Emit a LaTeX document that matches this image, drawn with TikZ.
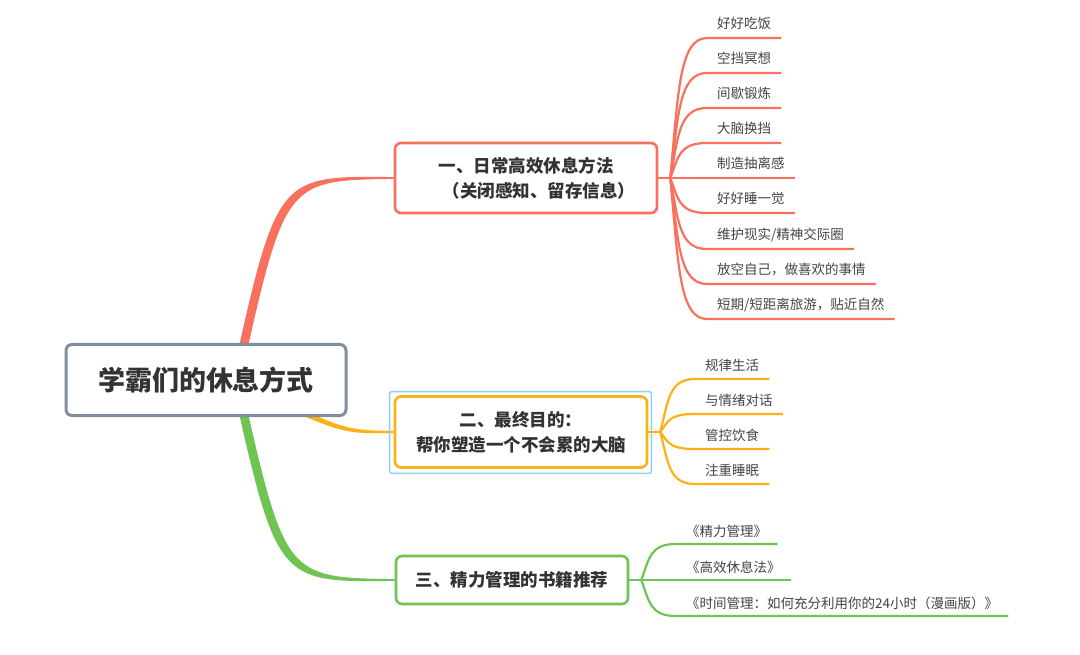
\documentclass[tikz,border=0pt]{standalone}
\usepackage{fontspec}
\setmainfont{Noto Sans CJK SC}
\usetikzlibrary{calc,backgrounds}
\definecolor{cred}{RGB}{248,112,94}
\definecolor{corange}{RGB}{252,178,20}
\definecolor{cgreen}{RGB}{112,196,84}
\definecolor{croot}{RGB}{128,140,160}
\definecolor{chl}{RGB}{140,208,242}
\definecolor{ctext}{RGB}{51,51,51}
\definecolor{cleaf}{RGB}{68,68,68}
\begin{document}
\begin{tikzpicture}[x=1pt,y=-1pt,
  rootbox/.style={draw=croot, line width=3pt, rounded corners=6pt, fill=white,
    minimum width=280pt, minimum height=71pt, inner sep=0pt, text=ctext,
    font=\fontsize{27}{32}\selectfont\bfseries},
  branchbox/.style={line width=2.6pt, rounded corners=6pt, fill=white, inner sep=0pt,
    text=ctext, align=center, font=\fontsize{17.5}{25}\selectfont\bfseries},
  leaf/.style={anchor=west, inner sep=0pt, text=cleaf, font=\fontsize{13.5}{16}\selectfont},
  twig/.style={line width=2.2pt}]
\useasboundingbox (0,0) rectangle (1080,655);

% nodes
\node[rootbox] (root) at (206,380) {学霸们的休息方式};
\node[branchbox, draw=cred, minimum width=262pt, minimum height=70pt] (b1) at (526,178)
  {一、日常高效休息方法\\\hspace*{26pt}（关闭感知、留存信息）};
\node[branchbox, draw=corange, minimum width=252pt, minimum height=71pt] (b2) at (521,432)
  {二、最终目的：\\帮你塑造一个不会累的大脑};
\node[branchbox, draw=cgreen, minimum width=232pt, minimum height=48pt] (b3) at (512,580)
  {三、精力管理的书籍推荐};
\draw[chl, line width=1.5pt, rounded corners=2pt]
  ($(b2.south west)+(-4,4.5)$) rectangle ($(b2.north east)+(3,-3.5)$);

% main tapered branches
\coordinate (r0) at ($(root.center)+(30,0)$);
\begin{scope}[on background layer]
  \fill[white] (0,0) rectangle (1080,655);
  \fill[cred] ($(r0)+(-4.5,0)$) .. controls ($(r0 |- b1.west)+(41,-2.5)$) .. ($(b1.west)+(0,-0.9)$)
     -- ($(b1.west)+(0,0.9)$) .. controls ($(r0 |- b1.west)+(49,2.5)$) .. ($(r0)+(4.5,0)$) -- cycle;
  \fill[cgreen] ($(r0)+(-4.5,0)$) .. controls ($(r0 |- b3.west)+(41,2.5)$) .. ($(b3.west)+(0,0.9)$)
     -- ($(b3.west)+(0,-0.9)$) .. controls ($(r0 |- b3.west)+(49,-2.5)$) .. ($(r0)+(4.5,0)$) -- cycle;
  \fill[corange] ($(r0)+(0,-5)$) .. controls ($(r0 |- b2.west)+(105,-2)$) .. ($(b2.west)+(0,-1)$)
     -- ($(b2.west)+(0,1)$) .. controls ($(r0 |- b2.west)+(105,2)$) .. ($(r0)+(0,5)$) -- cycle;
\end{scope}

% junctions
\coordinate (J1) at ($(b1.east)+(12,0)$);
\coordinate (J2) at ($(b2.east)+(12,0)$);
\coordinate (J3) at ($(b3.east)+(12,0)$);
\draw[cred, twig] (b1.east) -- (J1);
\draw[corange, twig] (b2.east) -- (J2);
\draw[cgreen, twig] (b3.east) -- (J3);

% branch 1 leaves
\foreach \i/\y/\txt in {1/38/好好吃饭, 2/73/空挡冥想, 3/108/间歇锻炼, 4/143/大脑换挡,
  5/178/制造抽离感, 6/213/好好睡一觉, 7/249/{维护现实/精神交际圈},
  8/284/放空自己，做喜欢的事情, 9/319/{短期/短距离旅游，贴近自然}}{
  \node[leaf] (a\i) at (717,{\y-14.5}) {\txt};
  \coordinate (ua\i) at (707,\y);
  \draw[cred, twig] (J1) .. controls ($(J1)!0.6!(J1 |- ua\i)+(8,0)$) and ($(ua\i)+(-28,0)$) .. (ua\i)
    -- ($(ua\i -| a\i.east)+(10,0)$);
}

% branch 2 leaves
\foreach \i/\y/\txt in {1/379/规律生活, 2/414/与情绪对话, 3/449/管控饮食, 4/484/注重睡眠}{
  \node[leaf] (c\i) at (705,{\y-14}) {\txt};
  \coordinate (uc\i) at (695,\y);
  \draw[corange, twig] (J2) .. controls ($(J2)!0.6!(J2 |- uc\i)+(8,0)$) and ($(uc\i)+(-26,0)$) .. (uc\i)
    -- ($(uc\i -| c\i.east)+(10,0)$);
}

% branch 3 leaves
\foreach \i/\y/\txt in {1/544/《精力管理》, 2/580/《高效休息法》,
  3/616/《时间管理：如何充分利用你的24小时（漫画版）》}{
  \node[leaf] (g\i) at (686,{\y-13}) {\txt};
  \coordinate (ug\i) at (676,\y);
  \draw[cgreen, twig] (J3) .. controls ($(J3)!0.6!(J3 |- ug\i)+(8,0)$) and ($(ug\i)+(-26,0)$) .. (ug\i)
    -- ($(ug\i -| g\i.east)+(10,0)$);
}
\end{tikzpicture}
\end{document}
